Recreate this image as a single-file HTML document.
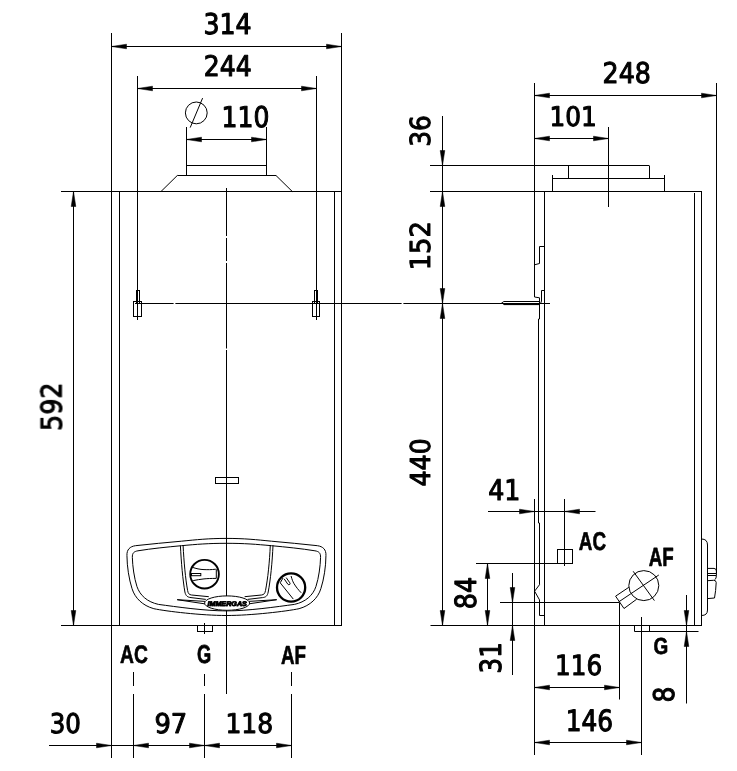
<!DOCTYPE html>
<html lang="en"><head><meta charset="utf-8"><title>Boiler dimensions</title>
<style>
html,body{margin:0;padding:0;background:#fff}
svg{display:block}
.g line,.g path,.g rect,.g circle,.g ellipse{fill:none;stroke:#000;stroke-width:1}
.g .a{fill:#000;stroke:#000;stroke-width:.5}
text{fill:#000;text-rendering:geometricPrecision}
</style></head><body>
<svg width="737" height="771" viewBox="0 0 737 771">
<rect width="737" height="771" fill="#fff"/>
<g class="g">
<line x1="61" y1="191.5" x2="342" y2="191.5"/>
<line x1="61" y1="625.5" x2="342" y2="625.5"/>
<line x1="111.5" y1="33" x2="111.5" y2="758"/>
<line x1="341.5" y1="33" x2="341.5" y2="626"/>
<line x1="119.5" y1="191.5" x2="119.5" y2="625.5"/>
<line x1="334.5" y1="191.5" x2="334.5" y2="625.5"/>
<line x1="137.5" y1="76" x2="137.5" y2="320"/>
<line x1="316.5" y1="76" x2="316.5" y2="320"/>
<rect x="136.5" y="290.5" width="3.0" height="13.0"/>
<rect x="133.5" y="301.5" width="8.0" height="15.0"/>
<rect x="314.5" y="290.5" width="3.0" height="13.0"/>
<rect x="312.5" y="301.5" width="7.0" height="15.0"/>
<line x1="135" y1="303.5" x2="173.6" y2="303.5"/>
<line x1="175.4" y1="303.5" x2="401.6" y2="303.5"/>
<line x1="403.4" y1="303.5" x2="550" y2="303.5"/>
<line x1="226.5" y1="188" x2="226.5" y2="236"/>
<line x1="226.5" y1="238" x2="226.5" y2="261"/>
<line x1="226.5" y1="263" x2="226.5" y2="348.5"/>
<line x1="226.5" y1="350" x2="226.5" y2="694"/>
<line x1="186.5" y1="127" x2="186.5" y2="175.5"/>
<line x1="266.5" y1="127" x2="266.5" y2="175.5"/>
<line x1="186.5" y1="165.5" x2="266.5" y2="165.5"/>
<path d="M161,191.5 L177.3,175.5 L276,175.5 L292.3,191.5"/>
<rect x="215.5" y="477.5" width="23.0" height="6.0"/>
<line x1="111.5" y1="46.5" x2="341.5" y2="46.5"/>
<polygon class="a" points="111.5,46.5 126.5,44.2 126.5,48.8"/>
<polygon class="a" points="341.5,46.5 326.5,44.2 326.5,48.8"/>
<line x1="137.5" y1="88.5" x2="316.5" y2="88.5"/>
<polygon class="a" points="137.5,88.5 152.5,86.2 152.5,90.8"/>
<polygon class="a" points="316.5,88.5 301.5,86.2 301.5,90.8"/>
<line x1="186.5" y1="139.5" x2="266.5" y2="139.5"/>
<polygon class="a" points="186.5,139.5 201.5,137.2 201.5,141.8"/>
<polygon class="a" points="266.5,139.5 251.5,137.2 251.5,141.8"/>
<circle cx="196.3" cy="112.9" r="10.9"/>
<line x1="190.2" y1="127.6" x2="202.6" y2="98.1"/>
<line x1="73.5" y1="191.5" x2="73.5" y2="625.5"/>
<polygon class="a" points="73.5,191.5 71.2,206.5 75.8,206.5"/>
<polygon class="a" points="73.5,625.5 71.2,610.5 75.8,610.5"/>
<rect x="197.5" y="625.5" width="15.0" height="6.0"/>
<line x1="204.5" y1="623" x2="204.5" y2="634"/>
<line x1="133.5" y1="672" x2="133.5" y2="686"/>
<line x1="133.5" y1="694" x2="133.5" y2="758"/>
<line x1="204.5" y1="674" x2="204.5" y2="686"/>
<line x1="204.5" y1="694" x2="204.5" y2="758"/>
<line x1="291.5" y1="672" x2="291.5" y2="686"/>
<line x1="291.5" y1="694" x2="291.5" y2="758"/>
<line x1="49" y1="745.5" x2="291.5" y2="745.5"/>
<polygon class="a" points="111.5,745.5 96.5,743.2 96.5,747.8"/>
<polygon class="a" points="133.5,745.5 148.5,743.2 148.5,747.8"/>
<polygon class="a" points="204.5,745.5 189.5,743.2 189.5,747.8"/>
<polygon class="a" points="204.5,745.5 219.5,743.2 219.5,747.8"/>
<polygon class="a" points="291.5,745.5 276.5,743.2 276.5,747.8"/>
<path d="M226.45,538.4 C244.45,538.4 256.45,539.7 271.45,541.2 C286.45,542.6 302.45,544 317.45,545.7 C322.95,546.5 326.25,549.5 325.95,555.6 C325.85,567 323.95,579 320.85,588.7 C317.95,598 310.45,605.5 299.05,608.7 C286.45,611.3 251.45,615.5 226.45,615.5 "/>
<path d="M226.45,538.4 C208.45,538.4 196.45,539.7 181.45,541.2 C166.45,542.6 150.45,544 135.45,545.7 C129.95,546.5 126.65,549.5 126.95,555.6 C127.05,567 128.95,579 132.05,588.7 C134.95,598 142.45,605.5 153.85,608.7 C166.45,611.3 201.45,615.5 226.45,615.5 "/>
<path d="M226.45,543.3 C244.45,543.3 256.45,544.3 271.45,545.7 C286.45,547.1 301.45,548.6 314.95,550.8 C318.95,551.5 320.75,553 320.55,557.5 C320.35,566 318.75,578 315.95,586.5 C312.95,595.5 305.45,602 294.45,604.4 C276.45,606.8 248.45,610.9 226.45,610.9 "/>
<path d="M226.45,543.3 C208.45,543.3 196.45,544.3 181.45,545.7 C166.45,547.1 151.45,548.6 137.95,550.8 C133.95,551.5 132.15,553 132.35,557.5 C132.55,566 134.15,578 136.95,586.5 C139.95,595.5 147.45,602 158.45,604.4 C176.45,606.8 204.45,610.9 226.45,610.9 "/>
<path d="M180.4,545.6 C181.2,562 182.8,580 184.9,592 C185.8,596 187.5,597.2 191,597.6 L205.8,599.4"/>
<path d="M183.1,545.3 C183.9,562 185.5,579 187.6,590.5 C188.2,593.6 189,594.6 191.5,595 L208.8,596.7"/>
<path d="M273,545.3 C272.3,562 270.5,580 268.2,592 C267.4,596 266,597.2 262.5,597.6 L247.6,599.4"/>
<path d="M270.3,545 C269.6,562 267.8,579 265.5,590.5 C264.9,593.6 264,594.6 261.5,595 L244.6,596.7"/>
<path d="M205,601.4 L177.2,599.7 L205.8,604"/>
<path d="M248.6,601.4 L276.7,599.7 L247.8,604"/>
<ellipse cx="227.1" cy="603.1" rx="22.5" ry="7.2" style="fill:#fff"/>
<circle cx="204.55" cy="574.15" r="14.3" style="stroke-width:1.9"/>
<path d="M192.1,567.2 C196,568.6 200,569.5 204,569.6 S211,569.8 215.8,569.2"/>
<path d="M193.2,580.6 C197,579.9 200,579.3 204,578.9 S211,578.4 216.3,578.4"/>
<line x1="216.3" y1="569.2" x2="216.3" y2="578.4"/>
<rect x="191.5" y="573.5" width="9.3" height="2.2"/>
<circle cx="291.1" cy="587.5" r="14.1" style="stroke-width:2.3"/>
<path d="M283,578 L280.2,582.8 L293.3,599.1"/>
<path d="M291.1,576 C292,579.5 292.8,581.5 293.8,583.3 C296,587 298.5,590 301.2,592.8"/>
<path d="M284.2,578.9 L287.8,584.2 Q288.8,585.2 289.8,584.4 Q290.4,583.6 289.8,582.8 L286.2,577.6"/>
<line x1="430" y1="165.5" x2="649" y2="165.5"/>
<line x1="430" y1="191.5" x2="702" y2="191.5"/>
<line x1="430.5" y1="625.5" x2="702" y2="625.5"/>
<line x1="534.5" y1="83" x2="534.5" y2="297"/>
<line x1="534.5" y1="499" x2="534.5" y2="755"/>
<line x1="716.5" y1="83" x2="716.5" y2="573"/>
<line x1="544.5" y1="191.5" x2="544.5" y2="625.5"/>
<line x1="694.5" y1="193" x2="694.5" y2="625.5"/>
<line x1="701.5" y1="191.5" x2="701.5" y2="625.5"/>
<path d="M568.5,165.5 V178.5 M649.5,165.5 V178.5 M552.5,175 V191.5 M664.5,175 V191.5 M552.5,178.5 H664.5"/>
<line x1="608.5" y1="127" x2="608.5" y2="207"/>
<path d="M544.5,246.5 H539.5 V263.5 L534.5,264.8"/>
<path d="M534.5,297 L539.5,297.8 V319 H538.5 V523 H539.5 V584.7 L534.6,591.2 L539.5,599.9 V615.5 H544.5"/>
<path d="M544.5,290.5 H541.5 V301 Q541.5,304.3 538,304.3 H503.8 L501.7,303 L503.8,301.5 H539.5"/>
<line x1="503.8" y1="304.6" x2="540" y2="304.6"/>
<line x1="534.5" y1="95.5" x2="716.5" y2="95.5"/>
<polygon class="a" points="534.5,95.5 549.5,93.2 549.5,97.8"/>
<polygon class="a" points="716.5,95.5 701.5,93.2 701.5,97.8"/>
<line x1="534.5" y1="138.5" x2="608.5" y2="138.5"/>
<polygon class="a" points="534.5,138.5 549.5,136.2 549.5,140.8"/>
<polygon class="a" points="608.5,138.5 593.5,136.2 593.5,140.8"/>
<line x1="442.5" y1="116" x2="442.5" y2="625.5"/>
<polygon class="a" points="442.5,165.5 440.2,150.5 444.8,150.5"/>
<polygon class="a" points="442.5,191.5 440.2,206.5 444.8,206.5"/>
<polygon class="a" points="442.5,303.5 440.2,288.5 444.8,288.5"/>
<polygon class="a" points="442.5,303.5 440.2,318.5 444.8,318.5"/>
<polygon class="a" points="442.5,625.5 440.2,610.5 444.8,610.5"/>
<line x1="488" y1="511.5" x2="595.5" y2="511.5"/>
<polygon class="a" points="534.5,511.5 519.5,509.2 519.5,513.8"/>
<polygon class="a" points="564.5,511.5 579.5,509.2 579.5,513.8"/>
<line x1="564.5" y1="499" x2="564.5" y2="566"/>
<rect x="557.5" y="549.5" width="15.0" height="14.0"/>
<line x1="476" y1="563.5" x2="572.5" y2="563.5"/>
<line x1="487.5" y1="563.5" x2="487.5" y2="625.5"/>
<polygon class="a" points="487.5,563.5 485.2,578.5 489.8,578.5"/>
<polygon class="a" points="487.5,625.5 485.2,610.5 489.8,610.5"/>
<line x1="500" y1="602.5" x2="619" y2="602.5"/>
<line x1="512.5" y1="573" x2="512.5" y2="675"/>
<polygon class="a" points="512.5,602.5 510.2,587.5 514.8,587.5"/>
<polygon class="a" points="512.5,625.5 510.2,640.5 514.8,640.5"/>
<circle cx="643.8" cy="585.6" r="15"/>
<line x1="633.2" y1="571.3" x2="654.4" y2="600.6"/>
<line x1="658.8" y1="575" x2="618.7" y2="601.9"/>
<path d="M628.8,587.3 L615.6,596.2 L624,608.5 L636.7,599.2"/>
<line x1="619.5" y1="602.5" x2="619.5" y2="699.5"/>
<line x1="641.5" y1="617" x2="641.5" y2="755"/>
<line x1="534.5" y1="687.5" x2="619.5" y2="687.5"/>
<polygon class="a" points="534.5,687.5 549.5,685.2 549.5,689.8"/>
<polygon class="a" points="619.5,687.5 604.5,685.2 604.5,689.8"/>
<line x1="534.5" y1="742.5" x2="641.5" y2="742.5"/>
<polygon class="a" points="534.5,742.5 549.5,740.2 549.5,744.8"/>
<polygon class="a" points="641.5,742.5 626.5,740.2 626.5,744.8"/>
<path d="M634.5,625.5 V631.5 H698.5 M649.5,625.5 V631.5"/>
<line x1="686.5" y1="595" x2="686.5" y2="703.5"/>
<polygon class="a" points="686.5,625.5 684.2,610.5 688.8,610.5"/>
<polygon class="a" points="686.5,631.5 684.2,646.5 688.8,646.5"/>
<path d="M701.5,539 Q707.5,539 707.5,545 V610 Q707.5,615.5 701.5,615.5"/>
<path d="M707.5,568.4 H714 Q716.4,568.6 716.4,571 V575.5 M707.5,573.5 H716.4 M707.5,575.5 H716.4 M716.4,575.5 Q716.4,578.5 714.8,579.7 M707.5,580.7 L713.5,580.3 Q716,580.1 716.2,582.5 L716,585 L715.6,590.5 L714.5,598 L707.5,598.6"/>
</g>
<g class="t" style="opacity:0.999">
<text transform="matrix(0.2803 0 0 0.2861 203.54 33.67)" textLength="171.68" lengthAdjust="spacingAndGlyphs" font-family='"DejaVu Sans Condensed","DejaVu Sans","Liberation Sans",sans-serif' font-weight="normal" font-size="100.0" stroke="#000" stroke-width="3.53" stroke-linejoin="round">314</text>
<text transform="matrix(0.2794 0 0 0.2838 203.68 76.00)" textLength="171.68" lengthAdjust="spacingAndGlyphs" font-family='"DejaVu Sans Condensed","DejaVu Sans","Liberation Sans",sans-serif' font-weight="normal" font-size="100.0" stroke="#000" stroke-width="3.55" stroke-linejoin="round">244</text>
<text transform="matrix(0.2788 0 0 0.2861 221.51 127.37)" textLength="171.68" lengthAdjust="spacingAndGlyphs" font-family='"DejaVu Sans Condensed","DejaVu Sans","Liberation Sans",sans-serif' font-weight="normal" font-size="100.0" stroke="#000" stroke-width="3.54" stroke-linejoin="round">110</text>
<text transform="matrix(0 -0.2810 0.2861 0 61.27 430.77)" textLength="171.68" lengthAdjust="spacingAndGlyphs" font-family='"DejaVu Sans Condensed","DejaVu Sans","Liberation Sans",sans-serif' font-weight="normal" font-size="100.0" stroke="#000" stroke-width="3.53" stroke-linejoin="round">592</text>
<text transform="matrix(0.2729 0 0 0.2728 49.69 732.69)" textLength="114.45" lengthAdjust="spacingAndGlyphs" font-family='"DejaVu Sans Condensed","DejaVu Sans","Liberation Sans",sans-serif' font-weight="normal" font-size="100.0" stroke="#000" stroke-width="3.66" stroke-linejoin="round">30</text>
<text transform="matrix(0.2871 0 0 0.2728 154.42 732.69)" textLength="114.45" lengthAdjust="spacingAndGlyphs" font-family='"DejaVu Sans Condensed","DejaVu Sans","Liberation Sans",sans-serif' font-weight="normal" font-size="100.0" stroke="#000" stroke-width="3.57" stroke-linejoin="round">97</text>
<text transform="matrix(0.2785 0 0 0.2728 225.42 732.69)" textLength="171.68" lengthAdjust="spacingAndGlyphs" font-family='"DejaVu Sans Condensed","DejaVu Sans","Liberation Sans",sans-serif' font-weight="normal" font-size="100.0" stroke="#000" stroke-width="3.63" stroke-linejoin="round">118</text>
<text transform="matrix(0.1928 0 0 0.2535 120.02 663.25)" textLength="144.44" lengthAdjust="spacingAndGlyphs" font-family='"Liberation Sans",sans-serif' font-weight="bold" font-size="100.0" stroke="#000" stroke-width="2.69" stroke-linejoin="round">AC</text>
<text transform="matrix(0.1822 0 0 0.2592 197.07 663.44)" textLength="77.78" lengthAdjust="spacingAndGlyphs" font-family='"Liberation Sans",sans-serif' font-weight="bold" font-size="100.0" stroke="#000" stroke-width="2.72" stroke-linejoin="round">G</text>
<text transform="matrix(0.1874 0 0 0.2609 280.93 663.50)" textLength="133.30" lengthAdjust="spacingAndGlyphs" font-family='"Liberation Sans",sans-serif' font-weight="bold" font-size="100.0" stroke="#000" stroke-width="2.68" stroke-linejoin="round">AF</text>
<text transform="matrix(0.2811 0 0 0.2848 602.57 82.87)" textLength="171.68" lengthAdjust="spacingAndGlyphs" font-family='"DejaVu Sans Condensed","DejaVu Sans","Liberation Sans",sans-serif' font-weight="normal" font-size="100.0" stroke="#000" stroke-width="3.53" stroke-linejoin="round">248</text>
<text transform="matrix(0.2756 0 0 0.2702 549.54 126.39)" textLength="171.68" lengthAdjust="spacingAndGlyphs" font-family='"DejaVu Sans Condensed","DejaVu Sans","Liberation Sans",sans-serif' font-weight="normal" font-size="100.0" stroke="#000" stroke-width="3.66" stroke-linejoin="round">101</text>
<text transform="matrix(0 -0.2768 0.2768 0 429.78 146.74)" textLength="114.45" lengthAdjust="spacingAndGlyphs" font-family='"DejaVu Sans Condensed","DejaVu Sans","Liberation Sans",sans-serif' font-weight="normal" font-size="100.0" stroke="#000" stroke-width="3.61" stroke-linejoin="round">36</text>
<text transform="matrix(0 -0.2866 0.2768 0 429.78 270.37)" textLength="171.68" lengthAdjust="spacingAndGlyphs" font-family='"DejaVu Sans Condensed","DejaVu Sans","Liberation Sans",sans-serif' font-weight="normal" font-size="100.0" stroke="#000" stroke-width="3.55" stroke-linejoin="round">152</text>
<text transform="matrix(0 -0.2805 0.2742 0 429.79 486.46)" textLength="171.68" lengthAdjust="spacingAndGlyphs" font-family='"DejaVu Sans Condensed","DejaVu Sans","Liberation Sans",sans-serif' font-weight="normal" font-size="100.0" stroke="#000" stroke-width="3.61" stroke-linejoin="round">440</text>
<text transform="matrix(0.2808 0 0 0.2849 488.24 500.10)" textLength="114.45" lengthAdjust="spacingAndGlyphs" font-family='"DejaVu Sans Condensed","DejaVu Sans","Liberation Sans",sans-serif' font-weight="normal" font-size="100.0" stroke="#000" stroke-width="3.54" stroke-linejoin="round">41</text>
<text transform="matrix(0 -0.2825 0.2914 0 475.76 609.20)" textLength="114.45" lengthAdjust="spacingAndGlyphs" font-family='"DejaVu Sans Condensed","DejaVu Sans","Liberation Sans",sans-serif' font-weight="normal" font-size="100.0" stroke="#000" stroke-width="3.48" stroke-linejoin="round">84</text>
<text transform="matrix(0 -0.2727 0.2914 0 500.66 673.41)" textLength="114.45" lengthAdjust="spacingAndGlyphs" font-family='"DejaVu Sans Condensed","DejaVu Sans","Liberation Sans",sans-serif' font-weight="normal" font-size="100.0" stroke="#000" stroke-width="3.55" stroke-linejoin="round">31</text>
<text transform="matrix(0.2737 0 0 0.2781 555.06 675.28)" textLength="171.68" lengthAdjust="spacingAndGlyphs" font-family='"DejaVu Sans Condensed","DejaVu Sans","Liberation Sans",sans-serif' font-weight="normal" font-size="100.0" stroke="#000" stroke-width="3.62" stroke-linejoin="round">116</text>
<text transform="matrix(0.2750 0 0 0.2927 565.75 730.56)" textLength="171.68" lengthAdjust="spacingAndGlyphs" font-family='"DejaVu Sans Condensed","DejaVu Sans","Liberation Sans",sans-serif' font-weight="normal" font-size="100.0" stroke="#000" stroke-width="3.52" stroke-linejoin="round">146</text>
<text transform="matrix(0 -0.2778 0.2848 0 674.37 702.47)" textLength="57.23" lengthAdjust="spacingAndGlyphs" font-family='"DejaVu Sans Condensed","DejaVu Sans","Liberation Sans",sans-serif' font-weight="normal" font-size="100.0" stroke="#000" stroke-width="3.56" stroke-linejoin="round">8</text>
<text transform="matrix(0.1885 0 0 0.2577 578.83 550.24)" textLength="144.44" lengthAdjust="spacingAndGlyphs" font-family='"Liberation Sans",sans-serif' font-weight="bold" font-size="100.0" stroke="#000" stroke-width="2.69" stroke-linejoin="round">AC</text>
<text transform="matrix(0.1874 0 0 0.2623 648.83 566.40)" textLength="133.30" lengthAdjust="spacingAndGlyphs" font-family='"Liberation Sans",sans-serif' font-weight="bold" font-size="100.0" stroke="#000" stroke-width="2.67" stroke-linejoin="round">AF</text>
<text transform="matrix(0.1896 0 0 0.2310 653.44 654.47)" textLength="77.78" lengthAdjust="spacingAndGlyphs" font-family='"Liberation Sans",sans-serif' font-weight="bold" font-size="100.0" stroke="#000" stroke-width="2.85" stroke-linejoin="round">G</text>
<text transform="matrix(0.0717 0 0 0.0662 207.41 605.58)" textLength="550.02" lengthAdjust="spacingAndGlyphs" font-family='"Liberation Sans",sans-serif' font-weight="bold" font-style="italic" font-size="100.0" stroke="#000" stroke-width="13.06" stroke-linejoin="round">IMMERGAS</text>
</g>
</svg>
</body></html>
